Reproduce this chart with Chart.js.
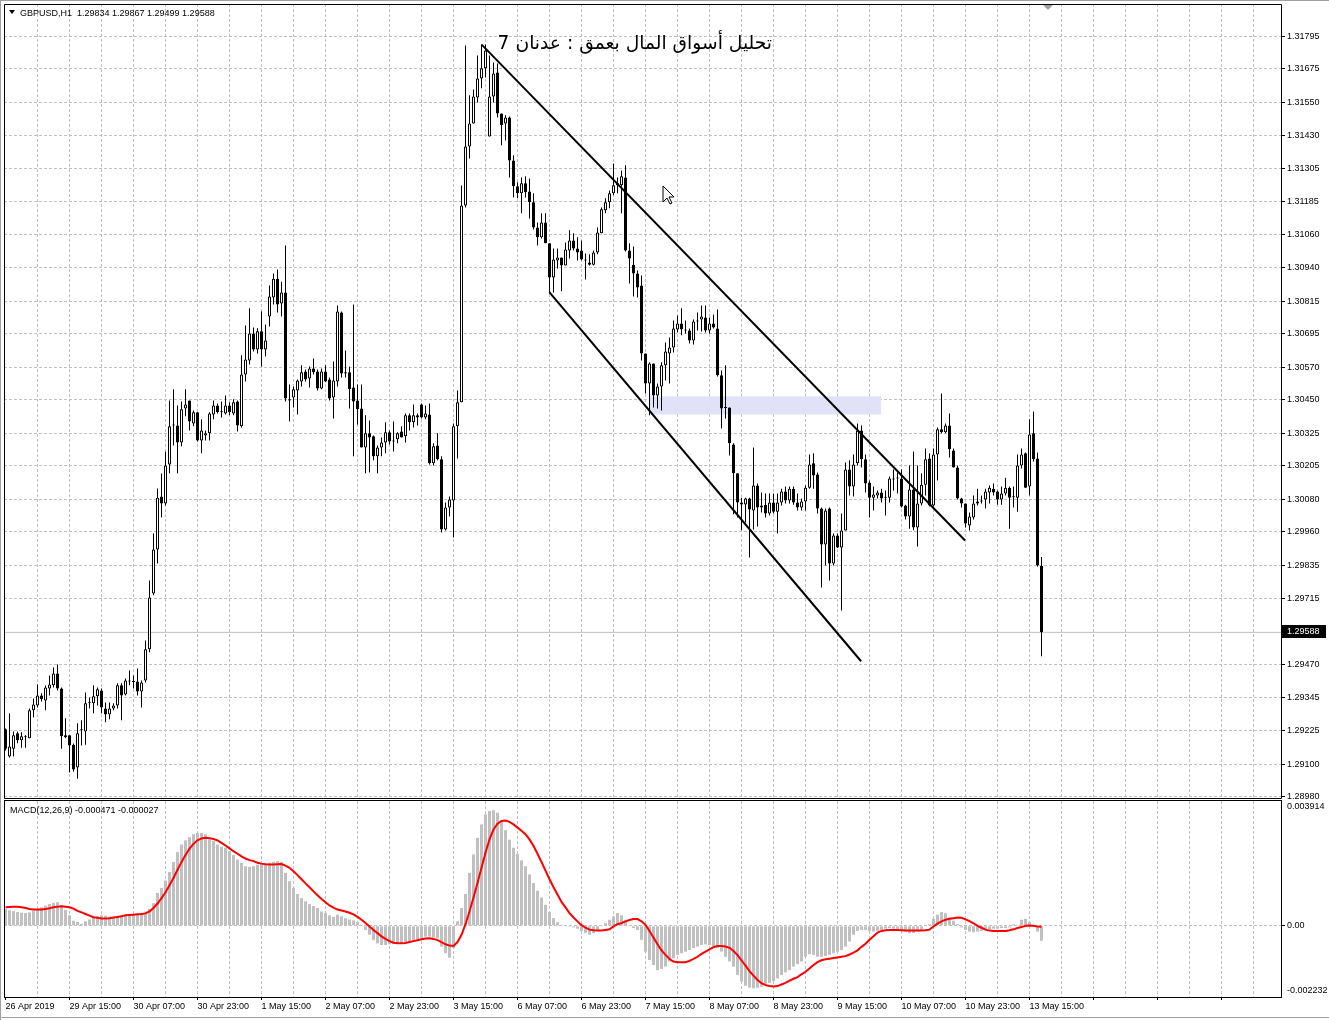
<!DOCTYPE html>
<html>
<head>
<meta charset="utf-8">
<title>GBPUSD H1</title>
<script src="https://cdn.jsdelivr.net/npm/chart.js@4.4.1/dist/chart.umd.min.js"></script>
<style>
  html, body { margin: 0; padding: 0; background: #fff; }
  #wrap { position: relative; width: 1329px; height: 1020px; overflow: hidden; background: #fff; }
  #priceBox { position: absolute; left: 0; top: 0; width: 1329px; height: 800px; }
  #macdBox { position: absolute; left: 0; top: 800px; width: 1329px; height: 220px; }
  .edge { position: absolute; background: #a0a0a0; }
</style>
</head>
<body>
<div id="wrap">
  <div class="edge" style="left:0;top:0;width:1329px;height:1px"></div>
  <div class="edge" style="left:0;top:0;width:1px;height:1020px"></div>
  <div class="edge" style="left:0;top:1017px;width:1329px;height:1px"></div>
  <div id="priceBox"><canvas id="priceChart"></canvas></div>
  <div id="macdBox"><canvas id="macdChart"></canvas></div>
</div>
<script>
// === GBPUSD,H1 candles + MACD(12,26,9) ===

const opens = [
  1.29229,1.29128,1.29157,1.29214,1.29188,1.29203,1.29196,1.29299,1.29317,1.29354,
  1.29336,1.29380,1.29392,1.29436,1.29380,1.29207,1.29207,1.29172,1.29087,1.29225,
  1.29221,1.29325,1.29325,1.29351,1.29373,1.29306,1.29284,1.29306,1.29317,1.29392,
  1.29358,1.29410,1.29406,1.29406,1.29369,1.29410,1.29525,1.29732,1.29895,1.30091,
  1.30065,1.30210,1.30354,1.30354,1.30291,1.30417,1.30447,1.30362,1.30403,1.30299,
  1.30317,1.30325,1.30395,1.30428,1.30403,1.30399,1.30428,1.30399,1.30443,1.30351,
  1.30543,1.30595,1.30695,1.30636,1.30703,1.30636,1.30758,1.30828,1.30898,1.30806,
  1.30847,1.30451,1.30458,1.30484,1.30517,1.30554,1.30528,1.30565,1.30554,1.30491,
  1.30554,1.30525,1.30458,1.30517,1.30773,1.30551,1.30551,1.30495,1.30447,1.30417,
  1.30273,1.30325,1.30314,1.30240,1.30273,1.30291,1.30329,1.30295,1.30303,1.30332,
  1.30314,1.30392,1.30366,1.30392,1.30432,1.30384,1.30395,1.30214,1.30280,1.30229,
  1.29969,1.30050,1.30076,1.30351,1.30440,1.31169,1.31388,1.31473,1.31569,1.31639,
  1.31677,1.31425,1.31573,1.31662,1.31510,1.31473,1.31495,1.31336,1.31240,1.31214,
  1.31251,1.31221,1.31181,1.31088,1.31051,1.31106,1.31029,1.30902,1.30965,1.30976,
  1.30947,1.31002,1.31039,1.31010,1.31002,1.30969,1.30958,1.30950,1.30995,1.31066,
  1.31151,1.31181,1.31214,1.31244,1.31244,1.31273,1.31002,1.30950,1.30917,1.30873,
  1.30621,1.30510,1.30584,1.30465,1.30499,1.30577,1.30621,1.30643,1.30710,1.30732,
  1.30710,1.30706,1.30669,1.30739,1.30747,1.30754,1.30706,1.30732,1.30713,1.30540,
  1.30421,1.30421,1.30284,1.30177,1.30069,1.30062,1.30084,1.30039,1.30132,1.30058,
  1.30061,1.30028,1.30069,1.30035,1.30069,1.30110,1.30076,1.30120,1.30069,1.30050,
  1.30073,1.30124,1.30214,1.30173,1.30047,1.29913,1.30047,1.29843,1.29947,1.29902,
  1.29965,1.30191,1.30128,1.30214,1.30336,1.30229,1.30143,1.30087,1.30095,1.30106,
  1.30087,1.30087,1.30154,1.30158,1.30158,1.30058,1.30017,1.30117,1.29976,1.30065,
  1.30135,1.30232,1.30058,1.30247,1.30340,1.30329,1.30354,1.30262,1.30199,1.30084,
  1.30065,1.29984,1.30013,1.30065,1.30073,1.30080,1.30106,1.30120,1.30110,1.30080,
  1.30102,1.30124,1.30091,1.30087,1.30206,1.30251,1.30128,1.30325,1.30232,1.29834
];

const highs = [
  1.29232,1.29288,1.29221,1.29221,1.29218,1.29207,1.29306,1.29343,1.29395,1.29362,
  1.29391,1.29428,1.29458,1.29469,1.29384,1.29270,1.29207,1.29176,1.29251,1.29262,
  1.29365,1.29347,1.29392,1.29384,1.29380,1.29328,1.29328,1.29325,1.29399,1.29399,
  1.29417,1.29447,1.29428,1.29454,1.29410,1.29558,1.29780,1.29954,1.30121,1.30176,
  1.30258,1.30447,1.30488,1.30428,1.30443,1.30488,1.30447,1.30410,1.30403,1.30377,
  1.30336,1.30403,1.30447,1.30436,1.30443,1.30465,1.30440,1.30451,1.30447,1.30614,
  1.30725,1.30788,1.30717,1.30714,1.30776,1.30728,1.30873,1.30917,1.30932,1.30887,
  1.31021,1.30506,1.30499,1.30525,1.30577,1.30562,1.30573,1.30602,1.30562,1.30565,
  1.30577,1.30532,1.30591,1.30799,1.30776,1.30632,1.30573,1.30802,1.30506,1.30506,
  1.30392,1.30373,1.30317,1.30280,1.30310,1.30366,1.30336,1.30369,1.30329,1.30351,
  1.30399,1.30399,1.30432,1.30399,1.30436,1.30428,1.30436,1.30288,1.30325,1.30240,
  1.30069,1.30091,1.30362,1.30484,1.31243,1.31762,1.31577,1.31599,1.31725,1.31765,
  1.31765,1.31725,1.31699,1.31695,1.31510,1.31503,1.31499,1.31355,1.31255,1.31273,
  1.31277,1.31269,1.31214,1.31106,1.31140,1.31140,1.31029,1.31010,1.31010,1.30976,
  1.31032,1.31077,1.31066,1.31051,1.31039,1.30991,1.30988,1.31002,1.31088,1.31162,
  1.31196,1.31225,1.31325,1.31273,1.31299,1.31318,1.31029,1.31017,1.30928,1.30910,
  1.30621,1.30588,1.30584,1.30510,1.30588,1.30662,1.30680,1.30743,1.30762,1.30788,
  1.30743,1.30713,1.30747,1.30773,1.30799,1.30799,1.30754,1.30765,1.30784,1.30558,
  1.30577,1.30421,1.30288,1.30177,1.30087,1.30087,1.30087,1.30273,1.30139,1.30106,
  1.30102,1.30102,1.30102,1.30102,1.30120,1.30128,1.30128,1.30128,1.30102,1.30084,
  1.30132,1.30247,1.30251,1.30180,1.30050,1.30047,1.30050,1.29954,1.29954,1.30028,
  1.30217,1.30225,1.30247,1.30362,1.30354,1.30247,1.30150,1.30128,1.30113,1.30120,
  1.30113,1.30165,1.30191,1.30180,1.30191,1.30061,1.30206,1.30258,1.30206,1.30177,
  1.30269,1.30251,1.30269,1.30347,1.30473,1.30362,1.30399,1.30269,1.30206,1.30087,
  1.30065,1.30032,1.30095,1.30120,1.30095,1.30120,1.30132,1.30139,1.30113,1.30128,
  1.30161,1.30128,1.30128,1.30247,1.30269,1.30254,1.30377,1.30406,1.30254,1.29867
];

const lows = [
  1.29150,1.29124,1.29128,1.29177,1.29161,1.29161,1.29196,1.29273,1.29310,1.29332,
  1.29299,1.29354,1.29384,1.29373,1.29157,1.29196,1.29069,1.29072,1.29046,1.29169,
  1.29172,1.29306,1.29288,1.29317,1.29288,1.29255,1.29266,1.29299,1.29306,1.29262,
  1.29354,1.29392,1.29380,1.29354,1.29310,1.29402,1.29514,1.29725,1.29843,1.30013,
  1.30058,1.30177,1.30280,1.30177,1.30277,1.30388,1.30336,1.30351,1.30295,1.30251,
  1.30299,1.30299,1.30377,1.30399,1.30384,1.30395,1.30392,1.30392,1.30332,1.30347,
  1.30517,1.30580,1.30628,1.30621,1.30573,1.30610,1.30721,1.30802,1.30773,1.30758,
  1.30443,1.30369,1.30421,1.30395,1.30499,1.30517,1.30495,1.30543,1.30484,1.30488,
  1.30514,1.30447,1.30380,1.30499,1.30532,1.30532,1.30417,1.30240,1.30358,1.30273,
  1.30177,1.30180,1.30225,1.30177,1.30240,1.30251,1.30284,1.30258,1.30288,1.30310,
  1.30291,1.30336,1.30347,1.30354,1.30380,1.30377,1.30210,1.30206,1.30225,1.29958,
  1.29965,1.30017,1.29939,1.30232,1.30440,1.31162,1.31343,1.31473,1.31551,1.31603,
  1.31643,1.31425,1.31551,1.31495,1.31392,1.31410,1.31273,1.31199,1.31196,1.31140,
  1.31199,1.31121,1.31080,1.31021,1.31047,1.31029,1.30847,1.30847,1.30936,1.30851,
  1.30947,1.30973,1.31002,1.30965,1.30965,1.30895,1.30947,1.30947,1.30988,1.31066,
  1.31140,1.31159,1.31207,1.31214,1.31140,1.30999,1.30880,1.30832,1.30828,1.30595,
  1.30473,1.30392,1.30421,1.30417,1.30410,1.30521,1.30510,1.30625,1.30699,1.30688,
  1.30695,1.30658,1.30654,1.30706,1.30702,1.30699,1.30695,1.30713,1.30536,1.30343,
  1.30380,1.30243,1.30025,1.30013,1.29966,1.29995,1.29865,1.29969,1.29980,1.30032,
  1.30013,1.30021,1.30028,1.29954,1.30058,1.30065,1.30065,1.30061,1.30039,1.30039,
  1.30039,1.30120,1.30120,1.30028,1.29754,1.29836,1.29780,1.29836,1.29900,1.29669,
  1.29965,1.30095,1.30091,1.30206,1.30199,1.30106,1.30013,1.30039,1.30084,1.30069,
  1.30021,1.30069,1.30113,1.30102,1.30050,1.30006,1.29972,1.29966,1.29906,1.30058,
  1.30095,1.30054,1.30054,1.30150,1.30325,1.30325,1.30236,1.30199,1.30080,1.30050,
  1.29976,1.29965,1.30006,1.30058,1.30065,1.30047,1.30065,1.30095,1.30061,1.30061,
  1.30095,1.29972,1.30050,1.30035,1.30195,1.30124,1.30095,1.30221,1.29832,1.29499
];

const closes = [
  1.29157,1.29165,1.29207,1.29188,1.29203,1.29199,1.29299,1.29321,1.29354,1.29340,
  1.29384,1.29395,1.29436,1.29380,1.29203,1.29199,1.29169,1.29080,1.29214,1.29228,
  1.29325,1.29328,1.29351,1.29377,1.29310,1.29284,1.29306,1.29317,1.29392,1.29354,
  1.29410,1.29406,1.29404,1.29369,1.29402,1.29525,1.29717,1.29895,1.30087,1.30065,
  1.30206,1.30351,1.30358,1.30291,1.30414,1.30432,1.30369,1.30403,1.30299,1.30336,
  1.30325,1.30399,1.30428,1.30403,1.30405,1.30428,1.30403,1.30440,1.30354,1.30543,
  1.30599,1.30695,1.30636,1.30703,1.30636,1.30669,1.30832,1.30898,1.30802,1.30847,
  1.30454,1.30447,1.30488,1.30521,1.30551,1.30525,1.30565,1.30551,1.30491,1.30554,
  1.30517,1.30454,1.30521,1.30776,1.30547,1.30547,1.30488,1.30443,1.30414,1.30273,
  1.30325,1.30310,1.30240,1.30273,1.30291,1.30329,1.30295,1.30297,1.30325,1.30310,
  1.30392,1.30366,1.30392,1.30384,1.30384,1.30399,1.30214,1.30277,1.30229,1.29969,
  1.30050,1.30080,1.30351,1.30440,1.31169,1.31388,1.31473,1.31573,1.31639,1.31677,
  1.31743,1.31573,1.31658,1.31510,1.31466,1.31495,1.31336,1.31240,1.31214,1.31251,
  1.31218,1.31181,1.31088,1.31051,1.31106,1.31029,1.30902,1.30969,1.30976,1.30947,
  1.31006,1.31039,1.31010,1.30995,1.30969,1.30965,1.30950,1.30995,1.31069,1.31155,
  1.31181,1.31214,1.31244,1.31251,1.31277,1.31002,1.30973,1.30917,1.30865,1.30621,
  1.30510,1.30584,1.30465,1.30499,1.30577,1.30628,1.30643,1.30713,1.30732,1.30710,
  1.30706,1.30669,1.30739,1.30743,1.30758,1.30706,1.30732,1.30717,1.30540,1.30417,
  1.30419,1.30288,1.30177,1.30069,1.30062,1.30084,1.30043,1.30132,1.30050,1.30050,
  1.30028,1.30069,1.30035,1.30069,1.30110,1.30076,1.30120,1.30069,1.30050,1.30073,
  1.30124,1.30210,1.30169,1.30047,1.29913,1.30039,1.29843,1.29947,1.29902,1.29965,
  1.30191,1.30128,1.30210,1.30336,1.30229,1.30139,1.30087,1.30099,1.30106,1.30084,
  1.30090,1.30158,1.30158,1.30160,1.30054,1.30017,1.30117,1.29976,1.30065,1.30135,
  1.30229,1.30058,1.30247,1.30340,1.30329,1.30354,1.30266,1.30199,1.30084,1.30065,
  1.29991,1.30017,1.30065,1.30073,1.30076,1.30110,1.30124,1.30106,1.30080,1.30102,
  1.30124,1.30087,1.30088,1.30206,1.30247,1.30124,1.30321,1.30229,1.29836,1.29588
];

// MACD main line (grey histogram) and signal (red)
const macdMain = [
  0.00053,0.00049,0.00046,0.00043,0.00041,0.00040,0.00042,0.00047,0.00053,0.00058,
  0.00063,0.00068,0.00072,0.00074,0.00064,0.00050,0.00033,0.00016,0.00012,0.00006,
  0.00014,0.00020,0.00026,0.00030,0.00033,0.00032,0.00029,0.00027,0.00028,0.00030,
  0.00033,0.00035,0.00037,0.00038,0.00039,0.00045,0.00053,0.00071,0.00103,0.00119,
  0.00142,0.00169,0.00200,0.00231,0.00255,0.00268,0.00278,0.00287,0.00291,0.00291,
  0.00287,0.00276,0.00266,0.00255,0.00248,0.00245,0.00234,0.00222,0.00208,0.00197,
  0.00187,0.00185,0.00187,0.00192,0.00194,0.00196,0.00198,0.00201,0.00203,0.00201,
  0.00166,0.00140,0.00119,0.00100,0.00087,0.00077,0.00068,0.00062,0.00056,0.00045,
  0.00041,0.00033,0.00028,0.00035,0.00030,0.00024,0.00020,0.00017,0.00012,0.00003,
  -0.00013,-0.00028,-0.00044,-0.00055,-0.00060,-0.00060,-0.00058,-0.00057,-0.00056,-0.00054,
  -0.00051,-0.00049,-0.00047,-0.00044,-0.00039,-0.00034,-0.00034,-0.00037,-0.00039,-0.00065,
  -0.00086,-0.00100,-0.00070,0.00014,0.00056,0.00100,0.00166,0.00224,0.00276,0.00318,
  0.00350,0.00360,0.00362,0.00355,0.00330,0.00300,0.00270,0.00245,0.00225,0.00205,
  0.00187,0.00161,0.00134,0.00110,0.00089,0.00066,0.00043,0.00024,0.00011,0.00003,
  -0.00001,-0.00003,-0.00005,-0.00009,-0.00016,-0.00023,-0.00028,-0.00023,-0.00013,-0.00002,
  0.00008,0.00019,0.00029,0.00040,0.00033,0.00019,0.00000,-0.00007,-0.00013,-0.00044,
  -0.00081,-0.00107,-0.00123,-0.00139,-0.00135,-0.00128,-0.00112,-0.00102,-0.00091,-0.00086,
  -0.00081,-0.00076,-0.00070,-0.00065,-0.00060,-0.00058,-0.00060,-0.00065,-0.00070,-0.00081,
  -0.00097,-0.00112,-0.00128,-0.00154,-0.00175,-0.00188,-0.00194,-0.00196,-0.00194,-0.00191,
  -0.00186,-0.00179,-0.00173,-0.00165,-0.00154,-0.00146,-0.00139,-0.00128,-0.00120,-0.00112,
  -0.00097,-0.00089,-0.00091,-0.00097,-0.00097,-0.00095,-0.00091,-0.00086,-0.00081,-0.00076,
  -0.00065,-0.00049,-0.00028,-0.00016,-0.00013,-0.00013,-0.00016,-0.00018,-0.00016,-0.00013,
  -0.00009,-0.00007,-0.00009,-0.00013,-0.00016,-0.00018,-0.00023,-0.00023,-0.00018,-0.00013,
  -0.00002,0.00005,0.00022,0.00035,0.00043,0.00040,0.00026,0.00016,0.00005,-0.00005,
  -0.00013,-0.00018,-0.00020,-0.00018,-0.00016,-0.00014,-0.00011,-0.00009,-0.00009,-0.00007,
  -0.00007,-0.00005,0.00005,0.00003,0.00019,0.00022,0.00012,0.00003,-0.00018,-0.00047
];

const macdSignal = [
  0.00058,0.00059,0.00060,0.00060,0.00058,0.00056,0.00053,0.00051,0.00051,0.00051,
  0.00053,0.00055,0.00058,0.00060,0.00061,0.00060,0.00058,0.00054,0.00047,0.00042,
  0.00037,0.00032,0.00027,0.00025,0.00023,0.00023,0.00024,0.00026,0.00028,0.00030,
  0.00033,0.00034,0.00035,0.00036,0.00037,0.00039,0.00045,0.00056,0.00070,0.00087,
  0.00105,0.00127,0.00150,0.00176,0.00200,0.00222,0.00242,0.00257,0.00268,0.00274,
  0.00276,0.00275,0.00272,0.00268,0.00260,0.00252,0.00243,0.00234,0.00226,0.00218,
  0.00211,0.00206,0.00203,0.00198,0.00195,0.00193,0.00192,0.00192,0.00193,0.00194,
  0.00189,0.00182,0.00171,0.00159,0.00146,0.00133,0.00121,0.00108,0.00096,0.00084,
  0.00074,0.00064,0.00057,0.00051,0.00048,0.00045,0.00041,0.00036,0.00028,0.00019,
  0.00009,-0.00002,-0.00013,-0.00023,-0.00033,-0.00041,-0.00048,-0.00053,-0.00055,-0.00055,
  -0.00054,-0.00051,-0.00048,-0.00045,-0.00042,-0.00040,-0.00039,-0.00041,-0.00045,-0.00051,
  -0.00058,-0.00062,-0.00063,-0.00051,-0.00028,0.00005,0.00045,0.00089,0.00134,0.00182,
  0.00229,0.00271,0.00302,0.00320,0.00329,0.00330,0.00326,0.00318,0.00308,0.00298,
  0.00287,0.00271,0.00250,0.00226,0.00200,0.00173,0.00146,0.00121,0.00098,0.00075,
  0.00058,0.00040,0.00026,0.00014,0.00002,-0.00006,-0.00012,-0.00014,-0.00015,-0.00015,
  -0.00013,-0.00011,-0.00002,0.00005,0.00009,0.00014,0.00018,0.00021,0.00021,0.00014,
  0.00003,-0.00016,-0.00037,-0.00058,-0.00077,-0.00091,-0.00104,-0.00112,-0.00114,-0.00114,
  -0.00114,-0.00110,-0.00104,-0.00097,-0.00088,-0.00081,-0.00074,-0.00067,-0.00063,-0.00063,
  -0.00065,-0.00069,-0.00079,-0.00092,-0.00108,-0.00125,-0.00142,-0.00156,-0.00170,-0.00180,
  -0.00186,-0.00189,-0.00190,-0.00189,-0.00184,-0.00179,-0.00172,-0.00166,-0.00161,-0.00152,
  -0.00144,-0.00134,-0.00123,-0.00114,-0.00108,-0.00105,-0.00103,-0.00101,-0.00099,-0.00097,
  -0.00095,-0.00090,-0.00084,-0.00077,-0.00066,-0.00056,-0.00044,-0.00033,-0.00021,-0.00016,
  -0.00014,-0.00013,-0.00013,-0.00013,-0.00014,-0.00015,-0.00015,-0.00015,-0.00015,-0.00015,
  -0.00014,-0.00012,-0.00002,0.00007,0.00014,0.00019,0.00022,0.00024,0.00026,0.00025,
  0.00020,0.00015,0.00008,0.00000,-0.00006,-0.00012,-0.00015,-0.00016,-0.00016,-0.00016,
  -0.00016,-0.00014,-0.00011,-0.00007,-0.00004,0.00000,0.00001,0.00000,-0.00002,-0.00003
];

// axis labels
const priceTicks = [1.31795, 1.31675, 1.31550, 1.31430, 1.31305, 1.31185, 1.31060, 1.30940,
  1.30815, 1.30695, 1.30570, 1.30450, 1.30325, 1.30205, 1.30080, 1.29960, 1.29835, 1.29715,
  1.29470, 1.29345, 1.29225, 1.29100, 1.28980];
const timeLabels = ['26 Apr 2019', '29 Apr 15:00', '30 Apr 07:00', '30 Apr 23:00', '1 May 15:00',
  '2 May 07:00', '2 May 23:00', '3 May 15:00', '6 May 07:00', '6 May 23:00', '7 May 15:00',
  '8 May 07:00', '8 May 23:00', '9 May 15:00', '10 May 07:00', '10 May 23:00', '13 May 15:00'];
const macdAxisLabels = ['0.003914', '0.00', '-0.002232'];
const macdAxisValues = [0.003726, 0, -0.002013];

// drawn objects: channel lines [x0, y0, x1, y1] and zone [x0, x1, yTop, yBottom]
const upperLine = [119.05, 1.31765, 239.9, 1.29928];
const lowerLine = [135.95, 1.30848, 213.9, 1.29481];
const zoneBox = [161.1, 218.9, 1.30462, 1.30395];

const headerText = 'GBPUSD,H1  1.29834 1.29867 1.29499 1.29588';
const macdText = 'MACD(12,26,9) -0.000471 -0.000027';
const titleText = 'تحليل أسواق المال بعمق : عدنان 7';

const GRID = '#c0c0c0';
const X_MIN = -0.375, X_MAX = 318.875;
const Y_MAX = 1.3191538, Y_MIN = 1.2897072;

Chart.defaults.font.family = '"Liberation Sans", Arial, sans-serif';
Chart.defaults.font.size = 9;
Chart.defaults.color = '#000';

const idx = closes.map((_, i) => i);
const gridSteps = [];
for (let g = 0; g <= 312; g += 8) gridSteps.push(g);

// keep the plot box fixed: no extra room for half tick labels
const noPad = s => { s.paddingTop = 0; s.paddingBottom = 0; s.paddingLeft = 0; s.paddingRight = 0; };

// === Price panel ===
const priceDecor = {
  id: 'priceDecor',
  beforeDatasetsDraw(chart) {
    const { ctx, scales: { x, y } } = chart;
    const x0 = x.getPixelForValue(zoneBox[0]), x1 = x.getPixelForValue(zoneBox[1]);
    const y0 = y.getPixelForValue(zoneBox[2]), y1 = y.getPixelForValue(zoneBox[3]);
    ctx.save();
    ctx.fillStyle = '#e1e1f8';
    ctx.fillRect(x0, y0, x1 - x0, y1 - y0);
    ctx.restore();
  },
  afterDraw(chart) {
    const { ctx, chartArea: a, scales: { y } } = chart;
    ctx.save();
    // frame
    ctx.strokeStyle = '#000';
    ctx.lineWidth = 1;
    ctx.beginPath();
    ctx.moveTo(a.left + 0.5, a.bottom - 0.5); ctx.lineTo(a.left + 0.5, a.top + 0.5);
    ctx.lineTo(a.right + 0.5, a.top + 0.5); ctx.lineTo(a.right + 0.5, a.bottom - 0.5);
    ctx.lineTo(a.left + 0.5, a.bottom - 0.5);
    ctx.stroke();

    // header
    ctx.fillStyle = '#000';
    ctx.beginPath();
    ctx.moveTo(9, 10); ctx.lineTo(15, 10); ctx.lineTo(12, 14); ctx.closePath();
    ctx.fill();
    ctx.font = '9px "Liberation Sans", Arial, sans-serif';
    ctx.textBaseline = 'alphabetic';
    ctx.fillText(headerText, 20, 16);

    // chart shift marker
    ctx.fillStyle = '#a0a0a0';
    ctx.beginPath();
    ctx.moveTo(1043, 5); ctx.lineTo(1053, 5); ctx.lineTo(1048, 10); ctx.closePath();
    ctx.fill();

    // title text object
    ctx.fillStyle = '#000';
    ctx.direction = 'rtl';
    let fs = 22;
    ctx.font = fs + 'px "DejaVu Sans", sans-serif';
    const w = ctx.measureText(titleText).width;
    fs = fs * 274 / w;
    ctx.font = fs.toFixed(1) + 'px "DejaVu Sans", sans-serif';
    ctx.textAlign = 'right';
    ctx.fillText(titleText, 772, 49);
    ctx.direction = 'ltr';
    ctx.textAlign = 'left';

    // mouse pointer
    ctx.beginPath();
    const px = 663, py = 186;
    ctx.moveTo(px, py); ctx.lineTo(px, py + 16); ctx.lineTo(px + 4, py + 12);
    ctx.lineTo(px + 7, py + 18); ctx.lineTo(px + 9, py + 17); ctx.lineTo(px + 6, py + 11);
    ctx.lineTo(px + 11, py + 11); ctx.closePath();
    ctx.fillStyle = '#fff'; ctx.fill();
    ctx.strokeStyle = '#000'; ctx.stroke();

    // current price label
    const last = closes[closes.length - 1];
    const yp = Math.round(y.getPixelForValue(last));
    ctx.fillStyle = '#000';
    ctx.fillRect(a.right + 1, yp - 7, 44, 13);
    ctx.fillStyle = '#fff';
    ctx.font = '9px "Liberation Sans", Arial, sans-serif';
    ctx.textBaseline = 'middle';
    ctx.fillText(last.toFixed(5), a.right + 6, yp);
    ctx.restore();
  }
};

new Chart(document.getElementById('priceChart'), {
  type: 'bar',
  data: {
    datasets: [
      {
        type: 'line',
        data: [{ x: upperLine[0], y: upperLine[1] }, { x: upperLine[2], y: upperLine[3] }],
        borderColor: '#000', borderWidth: 2, pointRadius: 0, order: 0
      },
      {
        type: 'line',
        data: [{ x: lowerLine[0], y: lowerLine[1] }, { x: lowerLine[2], y: lowerLine[3] }],
        borderColor: '#000', borderWidth: 2, pointRadius: 0, order: 0
      },
      {
        label: 'body',
        data: idx.map(i => ({ x: i, y: [opens[i], closes[i]] })),
        backgroundColor: idx.map(i => closes[i] >= opens[i] ? '#ffffff' : '#000000'),
        borderColor: '#000', borderWidth: 1, borderSkipped: false,
        barThickness: 3, minBarLength: 1, grouped: false, inflateAmount: 0, order: 1
      },
      {
        label: 'wick',
        data: idx.map(i => ({ x: i, y: [lows[i], highs[i]] })),
        backgroundColor: '#000', borderWidth: 0,
        barThickness: 1, minBarLength: 1, grouped: false, inflateAmount: 0, order: 2
      },
      {
        type: 'line',
        data: [{ x: X_MIN, y: closes[closes.length - 1] }, { x: X_MAX, y: closes[closes.length - 1] }],
        borderColor: '#c0c0c0', borderWidth: 1, pointRadius: 0, order: 3
      }
    ]
  },
  options: {
    responsive: true, maintainAspectRatio: false, animation: false, devicePixelRatio: 1,
    layout: { padding: { top: 4, left: 4, right: 0, bottom: 1 } },
    plugins: { legend: { display: false }, tooltip: { enabled: false } },
    scales: {
      x: {
        type: 'linear', min: X_MIN, max: X_MAX, offset: false,
        afterBuildTicks: s => { s.ticks = gridSteps.filter(v => v > 0).map(v => ({ value: v })); },
        afterFit: s => { s.height = 0; noPad(s); },
        ticks: { display: false },
        grid: { color: GRID, drawTicks: false, offset: false },
        border: { display: false, dash: [3, 2] }
      },
      y: {
        type: 'linear', position: 'right', min: Y_MIN, max: Y_MAX,
        afterBuildTicks: s => { s.ticks = priceTicks.map(v => ({ value: v })); },
        afterFit: s => { s.width = 48; noPad(s); },
        ticks: { autoSkip: false, padding: 2, callback: v => v.toFixed(5) },
        grid: { color: GRID, tickColor: '#000', tickLength: 4 },
        border: { display: false, dash: [3, 2] }
      }
    }
  },
  plugins: [priceDecor]
});

// === MACD panel ===
const macdDecor = {
  id: 'macdDecor',
  afterDraw(chart) {
    const { ctx, chartArea: a } = chart;
    ctx.save();
    ctx.strokeStyle = '#000';
    ctx.lineWidth = 1;
    ctx.strokeRect(a.left + 0.5, a.top - 0.5, a.right - a.left, a.bottom - a.top + 1);
    ctx.fillStyle = '#000';
    ctx.font = '9px "Liberation Sans", Arial, sans-serif';
    ctx.fillText(macdText, 10, a.top + 12);
    ctx.restore();
  }
};

new Chart(document.getElementById('macdChart'), {
  type: 'bar',
  data: {
    datasets: [
      {
        type: 'line',
        data: idx.map(i => ({ x: i, y: macdSignal[i] })),
        borderColor: '#ff0000', borderWidth: 2, pointRadius: 0, tension: 0, order: 0
      },
      {
        data: idx.map(i => ({ x: i, y: macdMain[i] })),
        backgroundColor: '#c0c0c0', borderWidth: 0,
        barThickness: 3, grouped: false, inflateAmount: 0, order: 1
      }
    ]
  },
  options: {
    responsive: true, maintainAspectRatio: false, animation: false, devicePixelRatio: 1,
    layout: { padding: { top: 1, left: 4, right: 0, bottom: 0 } },
    plugins: { legend: { display: false }, tooltip: { enabled: false } },
    scales: {
      x: {
        type: 'linear', min: X_MIN, max: X_MAX, offset: false,
        afterBuildTicks: s => { s.ticks = gridSteps.map(v => ({ value: v })); },
        afterFit: s => { s.height = 23; noPad(s); },
        ticks: {
          autoSkip: false, maxRotation: 0, align: 'start', padding: 1,
          callback: v => (v % 16 === 0 && timeLabels[v / 16]) ? timeLabels[v / 16] : ''
        },
        grid: {
          offset: false, tickLength: 3,
          color: c => (c.tick && c.tick.value === 0) ? 'rgba(0,0,0,0)' : GRID,
          tickColor: c => (c.tick && c.tick.value % 16 === 0) ? '#000' : 'rgba(0,0,0,0)'
        },
        border: { display: false, dash: [3, 2] }
      },
      y: {
        type: 'linear', position: 'right', min: -0.002232, max: 0.003914,
        afterBuildTicks: s => { s.ticks = macdAxisValues.map(v => ({ value: v })); },
        afterFit: s => { s.width = 48; noPad(s); },
        ticks: { autoSkip: false, padding: 2, callback: (v, i) => macdAxisLabels[i] },
        grid: {
          tickLength: 4,
          color: c => (c.tick && c.tick.value === 0) ? GRID : 'rgba(0,0,0,0)',
          tickColor: c => (c.tick && c.tick.value === 0) ? '#000' : 'rgba(0,0,0,0)'
        },
        border: { display: false, dash: [3, 2] }
      }
    }
  },
  plugins: [macdDecor]
});
</script>
</body>
</html>
